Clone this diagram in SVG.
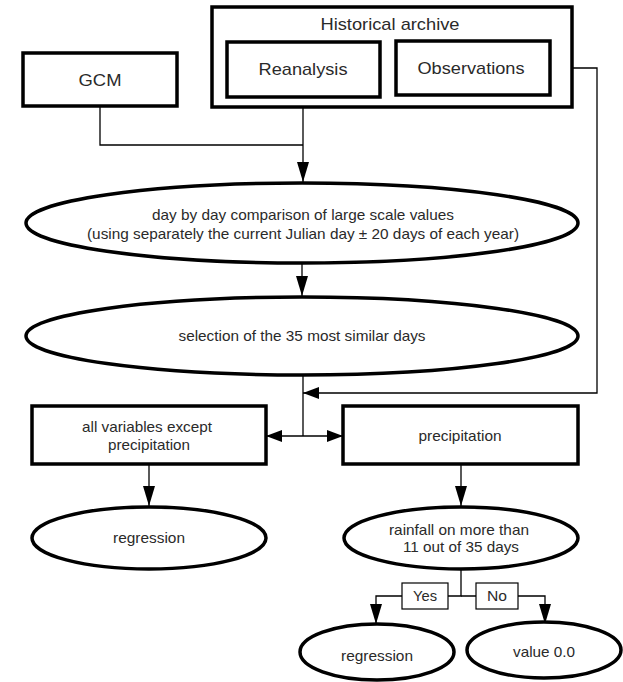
<svg xmlns="http://www.w3.org/2000/svg" width="623" height="682" viewBox="0 0 623 682">
<defs>
<style>
.box{fill:#fff;stroke:#000;stroke-width:3.5}
.ell{fill:#fff;stroke:#000;stroke-width:3.5}
.lbl{fill:#fff;stroke:#000;stroke-width:1.2}
.con{fill:none;stroke:#000;stroke-width:1.3}
text{font-family:"Liberation Sans",Arial,sans-serif;font-size:14.5px;fill:#2a2a2a;text-anchor:middle;dominant-baseline:central}
.big{font-size:17px}
</style>
<marker id="ahl" viewBox="0 0 16 12" refX="16" refY="6" markerWidth="16" markerHeight="12" markerUnits="userSpaceOnUse" orient="auto">
<path d="M0,0 L16,6 L0,12 z" fill="#000"/>
</marker>
<marker id="ahv" viewBox="0 0 20 12" refX="20" refY="6" markerWidth="20" markerHeight="12" markerUnits="userSpaceOnUse" orient="auto">
<path d="M0,0 L20,6 L0,12 z" fill="#000"/>
</marker>
</defs>
<rect width="623" height="682" fill="#fff"/>
<g id="connectors">
<path class="con" d="M303,97 V182" marker-end="url(#ahv)"/>
<path class="con" d="M100,106 V145 H303"/>
<path class="con" d="M550,68 H597 V393 H303" marker-end="url(#ahl)"/>
<path class="con" d="M302,263 V296" marker-end="url(#ahv)"/>
<path class="con" d="M303,376 V436"/>
<path class="con" d="M303,436 H266" marker-end="url(#ahl)"/>
<path class="con" d="M303,436 H343" marker-end="url(#ahl)"/>
<path class="con" d="M149,464 V506" marker-end="url(#ahv)"/>
<path class="con" d="M461,464 V506" marker-end="url(#ahv)"/>
<path class="con" d="M461,569 V596 H376 V624" marker-end="url(#ahv)"/>
<path class="con" d="M461,596 H545 V624" marker-end="url(#ahv)"/>
</g>
<g id="gcm"><rect class="box" x="23" y="53" width="154" height="53"/><text class="big" x="100" y="80" textLength="43" lengthAdjust="spacingAndGlyphs">GCM</text></g>
<g id="archive"><rect class="box" x="212" y="7" width="360" height="100"/><text class="big" x="390" y="24" textLength="139" lengthAdjust="spacingAndGlyphs">Historical archive</text></g>
<g id="reanalysis"><rect class="box" x="227" y="42" width="153" height="55"/><text class="big" x="303" y="69" textLength="89" lengthAdjust="spacingAndGlyphs">Reanalysis</text></g>
<g id="observations"><rect class="box" x="396" y="41" width="154" height="54"/><text class="big" x="471" y="68" textLength="107" lengthAdjust="spacingAndGlyphs">Observations</text></g>
<g id="comparison"><ellipse class="ell" cx="302" cy="223" rx="276" ry="40"/><text x="303" y="215" textLength="302" lengthAdjust="spacingAndGlyphs">day by day comparison of large scale values</text><text x="303" y="234" textLength="432" lengthAdjust="spacingAndGlyphs">(using separately the current Julian day ± 20 days of each year)</text></g>
<g id="selection"><ellipse class="ell" cx="302" cy="336" rx="276" ry="39"/><text x="302" y="336" textLength="247" lengthAdjust="spacingAndGlyphs">selection of the 35 most similar days</text></g>
<g id="allvars"><rect class="box" x="32" y="406" width="234" height="58"/><text x="147" y="427" textLength="130" lengthAdjust="spacingAndGlyphs">all variables except</text><text x="149" y="445" textLength="82" lengthAdjust="spacingAndGlyphs">precipitation</text></g>
<g id="precip"><rect class="box" x="343" y="406" width="235" height="58"/><text x="460" y="436" textLength="83" lengthAdjust="spacingAndGlyphs">precipitation</text></g>
<g id="regression1"><ellipse class="ell" cx="149" cy="538" rx="117" ry="31"/><text x="149" y="538" textLength="72" lengthAdjust="spacingAndGlyphs">regression</text></g>
<g id="rainfall"><ellipse class="ell" cx="461" cy="538" rx="117" ry="31"/><text x="459" y="530" textLength="140" lengthAdjust="spacingAndGlyphs">rainfall on more than</text><text x="461" y="547" textLength="116" lengthAdjust="spacingAndGlyphs">11 out of 35 days</text></g>
<g id="yes"><rect class="lbl" x="402" y="583" width="46" height="26"/><text x="425" y="596" textLength="24" lengthAdjust="spacingAndGlyphs">Yes</text></g>
<g id="no"><rect class="lbl" x="476" y="583" width="42" height="26"/><text x="497" y="596" textLength="20" lengthAdjust="spacingAndGlyphs">No</text></g>
<g id="regression2"><ellipse class="ell" cx="377" cy="652" rx="77" ry="28"/><text x="377" y="656" textLength="72" lengthAdjust="spacingAndGlyphs">regression</text></g>
<g id="value"><ellipse class="ell" cx="544" cy="650" rx="77" ry="28"/><text x="544" y="652" textLength="62" lengthAdjust="spacingAndGlyphs">value 0.0</text></g>
</svg>
